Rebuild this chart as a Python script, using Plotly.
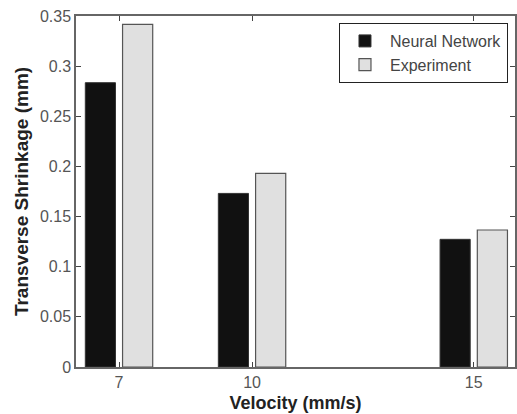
import plotly.graph_objects as go

velocity = [7, 10, 15]
neural_network = [0.2835, 0.1731, 0.1273]
experiment = [0.3417, 0.1930, 0.1366]
y_ticks = [0, 0.05, 0.1, 0.15, 0.2, 0.25, 0.3, 0.35]
y_tick_labels = ["0", "0.05", "0.1", "0.15", "0.2", "0.25", "0.3", "0.35"]

fig = go.Figure()
fig.add_trace(go.Bar(
    x=velocity, y=neural_network, name="Neural Network",
    width=0.68, offset=-0.76,
    marker=dict(color="#111111", line=dict(color="#333333", width=1)),
))
fig.add_trace(go.Bar(
    x=velocity, y=experiment, name="Experiment",
    width=0.68, offset=0.08,
    marker=dict(color="#e0e0e0", line=dict(color="#555555", width=1.2)),
))

font_family = "Liberation Sans, Arial, sans-serif"
fig.update_layout(
    width=517, height=414,
    margin=dict(l=76, r=0, t=16, b=47),
    paper_bgcolor="white", plot_bgcolor="white",
    barmode="overlay",
    font=dict(family=font_family, size=16, color="#333333"),
    showlegend=True,
    legend=dict(
        x=0.984, y=0.98, xanchor="right", yanchor="top",
        bgcolor="white", bordercolor="#222222", borderwidth=1,
        font=dict(size=16, color="#444444"),
        tracegroupgap=0, itemwidth=40,
    ),
    xaxis=dict(
        range=[6.03, 15.93],
        tickvals=velocity, ticktext=[str(v) for v in velocity],
        ticks="inside", ticklen=5, tickcolor="#444444",
        showline=True, linecolor="#666666", linewidth=1.5, mirror="ticks",
        showgrid=False, zeroline=False,
        title=dict(text="<b>Velocity (mm/s)</b>", font=dict(size=18, color="#222222"), standoff=6),
        tickfont=dict(size=16, color="#555555"),
    ),
    yaxis=dict(
        range=[0, 0.35],
        tickvals=y_ticks, ticktext=y_tick_labels,
        ticks="inside", ticklen=5, tickcolor="#444444",
        showline=True, linecolor="#666666", linewidth=1.5, mirror="ticks",
        showgrid=False, zeroline=False,
        title=dict(text="<b>Transverse Shrinkage (mm)</b>", font=dict(size=19, color="#222222"), standoff=6),
        tickfont=dict(size=16, color="#555555"),
    ),
)

fig.write_html("out.html")
